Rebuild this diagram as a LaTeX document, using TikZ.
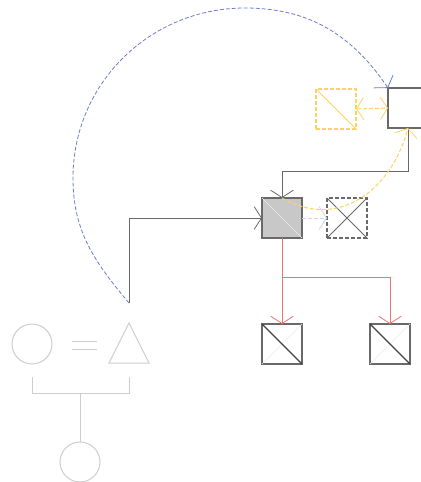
\documentclass[tikz,border=0pt]{standalone}
\usetikzlibrary{arrows.meta,positioning}
\definecolor{cgray}{RGB}{105,105,105}
\definecolor{cfill}{RGB}{200,200,200}
\definecolor{cped}{RGB}{205,205,205}
\definecolor{cred}{RGB}{240,115,115}
\definecolor{cyellow}{RGB}{255,210,100}
\definecolor{cblue}{RGB}{110,125,200}
\definecolor{clav}{RGB}{205,210,240}
\tikzset{
  famsec/.style={x=0.75pt,y=0.75pt},
  sq/.style={draw=cgray,line width=1.1pt,minimum size=30pt,inner sep=0pt,outer sep=0pt},
  ped/.style={draw=cped,line width=0.75pt},
  dsh/.style={dash pattern=on 3pt off 1.5pt},
  link/.style={line width=0.75pt,-{Straight Barb[length=5.5pt,width=17pt,line width=0.6pt]}},
}

\begin{document}
\begin{tikzpicture}[famsec]
    \useasboundingbox (0,0) rectangle (421,-482);
    % boxes
    \node[sq,fill=cfill] (ego) at (282,-218) {};
    \draw[white!85!gray,line width=0.5pt] (ego.north west) -- (ego.south east);
    \node[sq,dsh,line width=0.8pt] (sib) at (347,-218) {};
    \draw[cgray,line width=0.75pt] (sib.north west) -- (sib.south east) (sib.north east) -- (sib.south west);
    \node[sq] (par) at (408,-108) {};
    \node[sq,draw=cyellow,dsh,line width=0.8pt] (ybox) at (336,-109) {};
    \draw[cyellow,line width=0.75pt] (ybox.north west) -- (ybox.south east);
    \foreach \k/\x in {kida/282,kidb/390} {
      \node[sq] (\k) at (\x,-344) {};
      \draw[black!8,line width=0.5pt] (\k.north east) -- (\k.south west);
      \draw[black!75,line width=0.8pt] (\k.north west) -- (\k.south east);
    }
    % pedigree
    \node[ped,circle,minimum size=30pt,inner sep=0pt] (mom) at (32,-344) {};
    \node[ped,circle,minimum size=30pt,inner sep=0pt] (child) at (80,-462) {};
    \draw[ped] (129,-323) -- (149,-363) -- (109,-363) -- cycle;
    \draw[ped] (72,-341) -- (97,-341) (72,-349) -- (97,-349);
    \draw[ped] (32,-377) -- (32,-393) -- (129,-393) -- (129,-377);
    \draw[ped] (80,-393) -- (child.north);
    \coordinate (top) at (129,-303);
    \coordinate (arcl) at (73,-178);
    \coordinate (arct) at (245,-8);
    % connectors
    \draw[link,cgray] (top) |- (ego.west);
    \draw[link,cgray] (par.south) -- ++(0,-43) -| (ego.north);
    \draw[link,cred] (ego.south) -- (kida.north);
    \draw[link,cred] (ego.south) -- ++(0,-39.5) -| (kidb.north);
    \draw[link,clav,dsh] (ego.east) -- (sib.west);
    \draw[link,cyellow,dsh,{Straight Barb[length=5.5pt,width=17pt,line width=0.6pt]}-{Straight Barb[length=5.5pt,width=17pt,line width=0.6pt]}] (ybox.east) -- (par.west);
    \draw[link,cyellow,dsh] (ego.north) to[out=-30,in=255,looseness=1.15] (par.south);
    \draw[link,cblue,dsh,line width=0.6pt] (top) to[out=130,in=-90] (arcl)
      to[out=90,in=180] (arct) to[out=0,in=124] (par.north west);
  \end{tikzpicture}
\end{document}
